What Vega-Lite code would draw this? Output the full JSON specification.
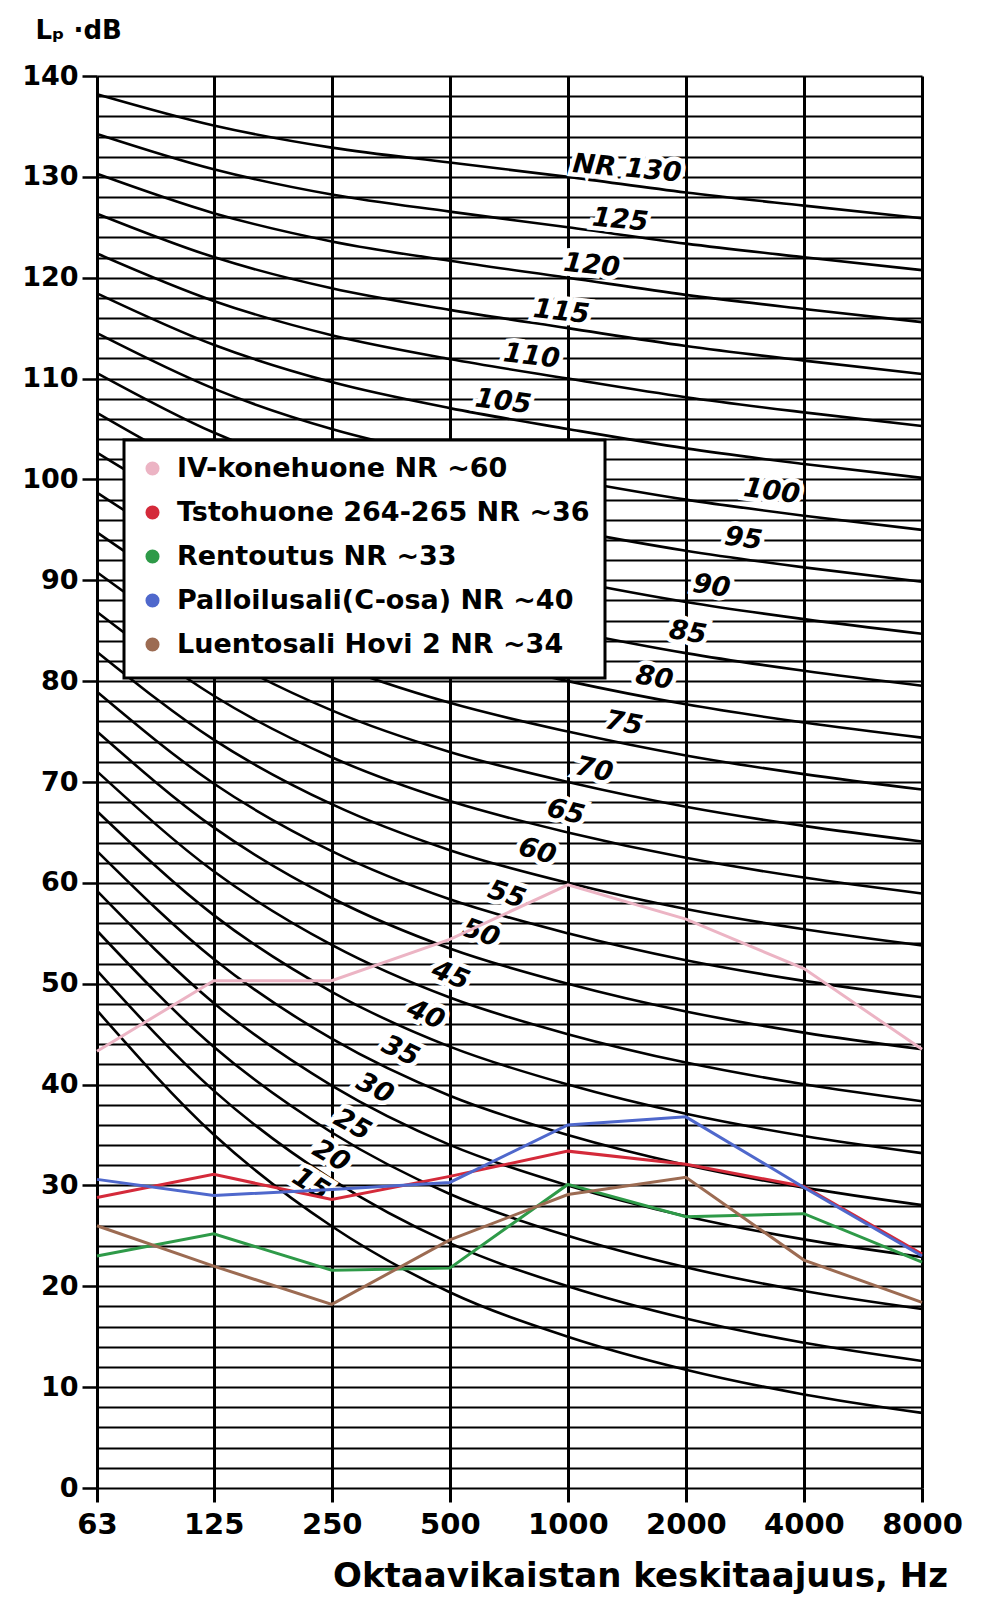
{
  "$schema": "https://vega.github.io/schema/vega-lite/v6.json",
  "width": 825,
  "height": 1412,
  "autosize": "none",
  "padding": {"left": 97, "top": 76, "right": 60, "bottom": 110},
  "background": "white",
  "config": {"font": "DejaVu Sans", "view": {"stroke": null}, "legend": {"strokeWidth": 3}},
  "datasets": {
    "nr": [
      {"nr":15,"f":63,"L":47.35},{"nr":15,"f":125,"L":35.05},{"nr":15,"f":250,"L":25.95},{"nr":15,"f":500,"L":19.41},{"nr":15,"f":1000,"L":15},{"nr":15,"f":2000,"L":11.73},{"nr":15,"f":4000,"L":9.28},{"nr":15,"f":8000,"L":7.45},
      {"nr":20,"f":63,"L":51.3},{"nr":20,"f":125,"L":39.4},{"nr":20,"f":250,"L":30.6},{"nr":20,"f":500,"L":24.28},{"nr":20,"f":1000,"L":20},{"nr":20,"f":2000,"L":16.8},{"nr":20,"f":4000,"L":14.4},{"nr":20,"f":8000,"L":12.6},
      {"nr":25,"f":63,"L":55.25},{"nr":25,"f":125,"L":43.75},{"nr":25,"f":250,"L":35.25},{"nr":25,"f":500,"L":29.15},{"nr":25,"f":1000,"L":25},{"nr":25,"f":2000,"L":21.88},{"nr":25,"f":4000,"L":19.53},{"nr":25,"f":8000,"L":17.75},
      {"nr":30,"f":63,"L":59.2},{"nr":30,"f":125,"L":48.1},{"nr":30,"f":250,"L":39.9},{"nr":30,"f":500,"L":34.02},{"nr":30,"f":1000,"L":30},{"nr":30,"f":2000,"L":26.95},{"nr":30,"f":4000,"L":24.65},{"nr":30,"f":8000,"L":22.9},
      {"nr":35,"f":63,"L":63.15},{"nr":35,"f":125,"L":52.45},{"nr":35,"f":250,"L":44.55},{"nr":35,"f":500,"L":38.89},{"nr":35,"f":1000,"L":35},{"nr":35,"f":2000,"L":32.03},{"nr":35,"f":4000,"L":29.78},{"nr":35,"f":8000,"L":28.05},
      {"nr":40,"f":63,"L":67.1},{"nr":40,"f":125,"L":56.8},{"nr":40,"f":250,"L":49.2},{"nr":40,"f":500,"L":43.76},{"nr":40,"f":1000,"L":40},{"nr":40,"f":2000,"L":37.1},{"nr":40,"f":4000,"L":34.9},{"nr":40,"f":8000,"L":33.2},
      {"nr":45,"f":63,"L":71.05},{"nr":45,"f":125,"L":61.15},{"nr":45,"f":250,"L":53.85},{"nr":45,"f":500,"L":48.63},{"nr":45,"f":1000,"L":45},{"nr":45,"f":2000,"L":42.18},{"nr":45,"f":4000,"L":40.03},{"nr":45,"f":8000,"L":38.35},
      {"nr":50,"f":63,"L":75},{"nr":50,"f":125,"L":65.5},{"nr":50,"f":250,"L":58.5},{"nr":50,"f":500,"L":53.5},{"nr":50,"f":1000,"L":50},{"nr":50,"f":2000,"L":47.25},{"nr":50,"f":4000,"L":45.15},{"nr":50,"f":8000,"L":43.5},
      {"nr":55,"f":63,"L":78.95},{"nr":55,"f":125,"L":69.85},{"nr":55,"f":250,"L":63.15},{"nr":55,"f":500,"L":58.37},{"nr":55,"f":1000,"L":55},{"nr":55,"f":2000,"L":52.33},{"nr":55,"f":4000,"L":50.28},{"nr":55,"f":8000,"L":48.65},
      {"nr":60,"f":63,"L":82.9},{"nr":60,"f":125,"L":74.2},{"nr":60,"f":250,"L":67.8},{"nr":60,"f":500,"L":63.24},{"nr":60,"f":1000,"L":60},{"nr":60,"f":2000,"L":57.4},{"nr":60,"f":4000,"L":55.4},{"nr":60,"f":8000,"L":53.8},
      {"nr":65,"f":63,"L":86.85},{"nr":65,"f":125,"L":78.55},{"nr":65,"f":250,"L":72.45},{"nr":65,"f":500,"L":68.11},{"nr":65,"f":1000,"L":65},{"nr":65,"f":2000,"L":62.48},{"nr":65,"f":4000,"L":60.53},{"nr":65,"f":8000,"L":58.95},
      {"nr":70,"f":63,"L":90.8},{"nr":70,"f":125,"L":82.9},{"nr":70,"f":250,"L":77.1},{"nr":70,"f":500,"L":72.98},{"nr":70,"f":1000,"L":70},{"nr":70,"f":2000,"L":67.55},{"nr":70,"f":4000,"L":65.65},{"nr":70,"f":8000,"L":64.1},
      {"nr":75,"f":63,"L":94.75},{"nr":75,"f":125,"L":87.25},{"nr":75,"f":250,"L":81.75},{"nr":75,"f":500,"L":77.85},{"nr":75,"f":1000,"L":75},{"nr":75,"f":2000,"L":72.63},{"nr":75,"f":4000,"L":70.78},{"nr":75,"f":8000,"L":69.25},
      {"nr":80,"f":63,"L":98.7},{"nr":80,"f":125,"L":91.6},{"nr":80,"f":250,"L":86.4},{"nr":80,"f":500,"L":82.72},{"nr":80,"f":1000,"L":80},{"nr":80,"f":2000,"L":77.7},{"nr":80,"f":4000,"L":75.9},{"nr":80,"f":8000,"L":74.4},
      {"nr":85,"f":63,"L":102.65},{"nr":85,"f":125,"L":95.95},{"nr":85,"f":250,"L":91.05},{"nr":85,"f":500,"L":87.59},{"nr":85,"f":1000,"L":85},{"nr":85,"f":2000,"L":82.78},{"nr":85,"f":4000,"L":81.03},{"nr":85,"f":8000,"L":79.55},
      {"nr":90,"f":63,"L":106.6},{"nr":90,"f":125,"L":100.3},{"nr":90,"f":250,"L":95.7},{"nr":90,"f":500,"L":92.46},{"nr":90,"f":1000,"L":90},{"nr":90,"f":2000,"L":87.85},{"nr":90,"f":4000,"L":86.15},{"nr":90,"f":8000,"L":84.7},
      {"nr":95,"f":63,"L":110.55},{"nr":95,"f":125,"L":104.65},{"nr":95,"f":250,"L":100.35},{"nr":95,"f":500,"L":97.33},{"nr":95,"f":1000,"L":95},{"nr":95,"f":2000,"L":92.93},{"nr":95,"f":4000,"L":91.28},{"nr":95,"f":8000,"L":89.85},
      {"nr":100,"f":63,"L":114.5},{"nr":100,"f":125,"L":109},{"nr":100,"f":250,"L":105},{"nr":100,"f":500,"L":102.2},{"nr":100,"f":1000,"L":100},{"nr":100,"f":2000,"L":98},{"nr":100,"f":4000,"L":96.4},{"nr":100,"f":8000,"L":95},
      {"nr":105,"f":63,"L":118.45},{"nr":105,"f":125,"L":113.35},{"nr":105,"f":250,"L":109.65},{"nr":105,"f":500,"L":107.07},{"nr":105,"f":1000,"L":105},{"nr":105,"f":2000,"L":103.08},{"nr":105,"f":4000,"L":101.53},{"nr":105,"f":8000,"L":100.15},
      {"nr":110,"f":63,"L":122.4},{"nr":110,"f":125,"L":117.7},{"nr":110,"f":250,"L":114.3},{"nr":110,"f":500,"L":111.94},{"nr":110,"f":1000,"L":110},{"nr":110,"f":2000,"L":108.15},{"nr":110,"f":4000,"L":106.65},{"nr":110,"f":8000,"L":105.3},
      {"nr":115,"f":63,"L":126.35},{"nr":115,"f":125,"L":122.05},{"nr":115,"f":250,"L":118.95},{"nr":115,"f":500,"L":116.81},{"nr":115,"f":1000,"L":115},{"nr":115,"f":2000,"L":113.23},{"nr":115,"f":4000,"L":111.78},{"nr":115,"f":8000,"L":110.45},
      {"nr":120,"f":63,"L":130.3},{"nr":120,"f":125,"L":126.4},{"nr":120,"f":250,"L":123.6},{"nr":120,"f":500,"L":121.68},{"nr":120,"f":1000,"L":120},{"nr":120,"f":2000,"L":118.3},{"nr":120,"f":4000,"L":116.9},{"nr":120,"f":8000,"L":115.6},
      {"nr":125,"f":63,"L":134.25},{"nr":125,"f":125,"L":130.75},{"nr":125,"f":250,"L":128.25},{"nr":125,"f":500,"L":126.55},{"nr":125,"f":1000,"L":125},{"nr":125,"f":2000,"L":123.38},{"nr":125,"f":4000,"L":122.03},{"nr":125,"f":8000,"L":120.75},
      {"nr":130,"f":63,"L":138.2},{"nr":130,"f":125,"L":135.1},{"nr":130,"f":250,"L":132.9},{"nr":130,"f":500,"L":131.42},{"nr":130,"f":1000,"L":130},{"nr":130,"f":2000,"L":128.45},{"nr":130,"f":4000,"L":127.15},{"nr":130,"f":8000,"L":125.9}
    ],
    "labels": [
      {"nr":130,"lab":"NR 130","f":1416,"L":130.8},
      {"nr":125,"lab":"125","f":1360,"L":125.7},
      {"nr":120,"lab":"120","f":1150,"L":121.2},
      {"nr":115,"lab":"115","f":963,"L":116.6},
      {"nr":110,"lab":"110","f":808,"L":112.2},
      {"nr":105,"lab":"105","f":684,"L":107.7},
      {"nr":100,"lab":"100","f":3311,"L":98.8},
      {"nr":95,"lab":"95","f":2802,"L":94.1},
      {"nr":90,"lab":"90","f":2323,"L":89.4},
      {"nr":85,"lab":"85","f":2023,"L":84.8},
      {"nr":80,"lab":"80","f":1661,"L":80.3},
      {"nr":75,"lab":"75","f":1389,"L":75.8},
      {"nr":70,"lab":"70","f":1167,"L":71.2},
      {"nr":65,"lab":"65","f":987,"L":67.0},
      {"nr":60,"lab":"60","f":835,"L":63.1},
      {"nr":55,"lab":"55","f":698,"L":58.8},
      {"nr":50,"lab":"50","f":600,"L":55.0},
      {"nr":45,"lab":"45","f":502,"L":50.8},
      {"nr":40,"lab":"40","f":434,"L":46.9},
      {"nr":35,"lab":"35","f":374,"L":43.3},
      {"nr":30,"lab":"30","f":322,"L":39.6},
      {"nr":25,"lab":"25","f":282,"L":36.0},
      {"nr":20,"lab":"20","f":249,"L":32.9},
      {"nr":15,"lab":"15","f":221,"L":30.1}
    ],
    "meas": [
      {"s":"IV-konehuone NR ~60","f":63,"L":43.3},{"s":"IV-konehuone NR ~60","f":125,"L":50.3},{"s":"IV-konehuone NR ~60","f":250,"L":50.3},{"s":"IV-konehuone NR ~60","f":500,"L":54.4},{"s":"IV-konehuone NR ~60","f":1000,"L":59.8},{"s":"IV-konehuone NR ~60","f":2000,"L":56.4},{"s":"IV-konehuone NR ~60","f":4000,"L":51.5},{"s":"IV-konehuone NR ~60","f":8000,"L":43.5},
      {"s":"Tstohuone 264-265 NR ~36","f":63,"L":28.8},{"s":"Tstohuone 264-265 NR ~36","f":125,"L":31.1},{"s":"Tstohuone 264-265 NR ~36","f":250,"L":28.6},{"s":"Tstohuone 264-265 NR ~36","f":500,"L":30.9},{"s":"Tstohuone 264-265 NR ~36","f":1000,"L":33.4},{"s":"Tstohuone 264-265 NR ~36","f":2000,"L":32.1},{"s":"Tstohuone 264-265 NR ~36","f":4000,"L":29.9},{"s":"Tstohuone 264-265 NR ~36","f":8000,"L":23.2},
      {"s":"Rentoutus NR ~33","f":63,"L":23.0},{"s":"Rentoutus NR ~33","f":125,"L":25.2},{"s":"Rentoutus NR ~33","f":250,"L":21.6},{"s":"Rentoutus NR ~33","f":500,"L":21.8},{"s":"Rentoutus NR ~33","f":1000,"L":30.1},{"s":"Rentoutus NR ~33","f":2000,"L":26.9},{"s":"Rentoutus NR ~33","f":4000,"L":27.2},{"s":"Rentoutus NR ~33","f":8000,"L":22.4},
      {"s":"Palloilusali(C-osa) NR ~40","f":63,"L":30.6},{"s":"Palloilusali(C-osa) NR ~40","f":125,"L":29.0},{"s":"Palloilusali(C-osa) NR ~40","f":250,"L":29.6},{"s":"Palloilusali(C-osa) NR ~40","f":500,"L":30.3},{"s":"Palloilusali(C-osa) NR ~40","f":1000,"L":36.0},{"s":"Palloilusali(C-osa) NR ~40","f":2000,"L":36.8},{"s":"Palloilusali(C-osa) NR ~40","f":4000,"L":29.8},{"s":"Palloilusali(C-osa) NR ~40","f":8000,"L":23.0},
      {"s":"Luentosali Hovi 2 NR ~34","f":63,"L":26.0},{"s":"Luentosali Hovi 2 NR ~34","f":125,"L":22.0},{"s":"Luentosali Hovi 2 NR ~34","f":250,"L":18.2},{"s":"Luentosali Hovi 2 NR ~34","f":500,"L":24.6},{"s":"Luentosali Hovi 2 NR ~34","f":1000,"L":29.1},{"s":"Luentosali Hovi 2 NR ~34","f":2000,"L":30.8},{"s":"Luentosali Hovi 2 NR ~34","f":4000,"L":22.6},{"s":"Luentosali Hovi 2 NR ~34","f":8000,"L":18.4}
    ]
  },
  "encoding": {
    "x": {
      "field": "f", "type": "quantitative",
      "scale": {"type": "log", "domain": [63, 8000], "nice": false},
      "axis": {
        "values": [63, 125, 250, 500, 1000, 2000, 4000, 8000],
        "format": "d",
        "grid": true, "gridColor": "black", "gridWidth": 3, "gridOpacity": 1,
        "domain": false,
        "ticks": true, "tickSize": 14, "tickWidth": 3, "tickColor": "black",
        "labelFont": "DejaVu Sans", "labelFontWeight": "bold", "labelFontSize": 29, "labelColor": "black",
        "labelPadding": 8, "labelFlush": false, "labelOverlap": false,
        "title": "Oktaavikaistan keskitaajuus, Hz",
        "titleFont": "DejaVu Sans", "titleFontWeight": "bold", "titleFontSize": 34, "titleColor": "black",
        "titleAnchor": "start", "titleAlign": "center", "titleX": 543, "titleY": 98, "titleBaseline": "alphabetic"
      }
    },
    "y": {
      "field": "L", "type": "quantitative",
      "scale": {"domain": [0, 140], "nice": false, "zero": false},
      "axis": {
        "values": [0,2,4,6,8,10,12,14,16,18,20,22,24,26,28,30,32,34,36,38,40,42,44,46,48,50,52,54,56,58,60,62,64,66,68,70,72,74,76,78,80,82,84,86,88,90,92,94,96,98,100,102,104,106,108,110,112,114,116,118,120,122,124,126,128,130,132,134,136,138,140],
        "labelExpr": "datum.value % 10 === 0 ? datum.label : ''",
        "grid": true, "gridColor": "black", "gridWidth": 2.2, "gridOpacity": 1,
        "domain": false,
        "ticks": true, "tickSize": 15, "tickWidth": 2.5, "tickColor": "black",
        "tickOpacity": {"condition": {"test": "datum.value % 10 === 0", "value": 1}, "value": 0},
        "labelFont": "DejaVu Sans", "labelFontWeight": "bold", "labelFontSize": 27, "labelColor": "black",
        "labelPadding": 4, "labelOverlap": false,
        "title": "Lₚ ·dB",
        "titleFont": "DejaVu Sans", "titleFontWeight": "bold", "titleFontSize": 26, "titleColor": "black",
        "titleAngle": 0, "titleAnchor": "start", "titleAlign": "left", "titleBaseline": "alphabetic",
        "titleX": -62, "titleY": -38
      }
    }
  },
  "layer": [
    {
      "data": {"name": "nr"},
      "mark": {"type": "line", "color": "black", "strokeWidth": 2.6, "interpolate": "monotone"},
      "encoding": {"detail": {"field": "nr", "type": "nominal"}}
    },
    {
      "data": {"name": "labels"},
      "mark": {"type": "text", "font": "DejaVu Sans", "fontWeight": "bold", "fontStyle": "oblique", "fontSize": 27, "align": "center", "baseline": "middle", "stroke": "white", "strokeWidth": 9, "fill": "white"},
      "encoding": {
        "text": {"field": "lab"},
        "angle": {"field": "nr", "type": "quantitative", "scale": {"domain": [15, 45, 75, 130], "range": [32, 22, 10, 5]}, "legend": null}
      }
    },
    {
      "data": {"name": "labels"},
      "mark": {"type": "text", "font": "DejaVu Sans", "fontWeight": "bold", "fontStyle": "oblique", "fontSize": 27, "align": "center", "baseline": "middle", "fill": "black"},
      "encoding": {
        "text": {"field": "lab"},
        "angle": {"field": "nr", "type": "quantitative", "scale": {"domain": [15, 45, 75, 130], "range": [32, 22, 10, 5]}, "legend": null}
      }
    },
    {
      "data": {"name": "meas"},
      "mark": {"type": "line", "strokeWidth": 3},
      "encoding": {
        "color": {
          "field": "s", "type": "nominal",
          "scale": {
            "domain": ["IV-konehuone NR ~60", "Tstohuone 264-265 NR ~36", "Rentoutus NR ~33", "Palloilusali(C-osa) NR ~40", "Luentosali Hovi 2 NR ~34"],
            "range": ["#ecb4c4", "#d42a3a", "#2e9a48", "#4f68cc", "#9c6b52"]
          },
          "legend": {
            "title": null, "orient": "none", "legendX": 27, "legendY": 364,
            "fillColor": "white", "strokeColor": "black", "padding": 15,
            "labelFont": "DejaVu Sans", "labelFontWeight": "bold", "labelFontSize": 27, "labelColor": "black", "labelLimit": 0,
            "labelOffset": 11, "rowPadding": 7,
            "symbolType": "circle", "symbolSize": 50, "symbolStrokeWidth": 7, "symbolOpacity": 1
          }
        }
      }
    }
  ]
}
